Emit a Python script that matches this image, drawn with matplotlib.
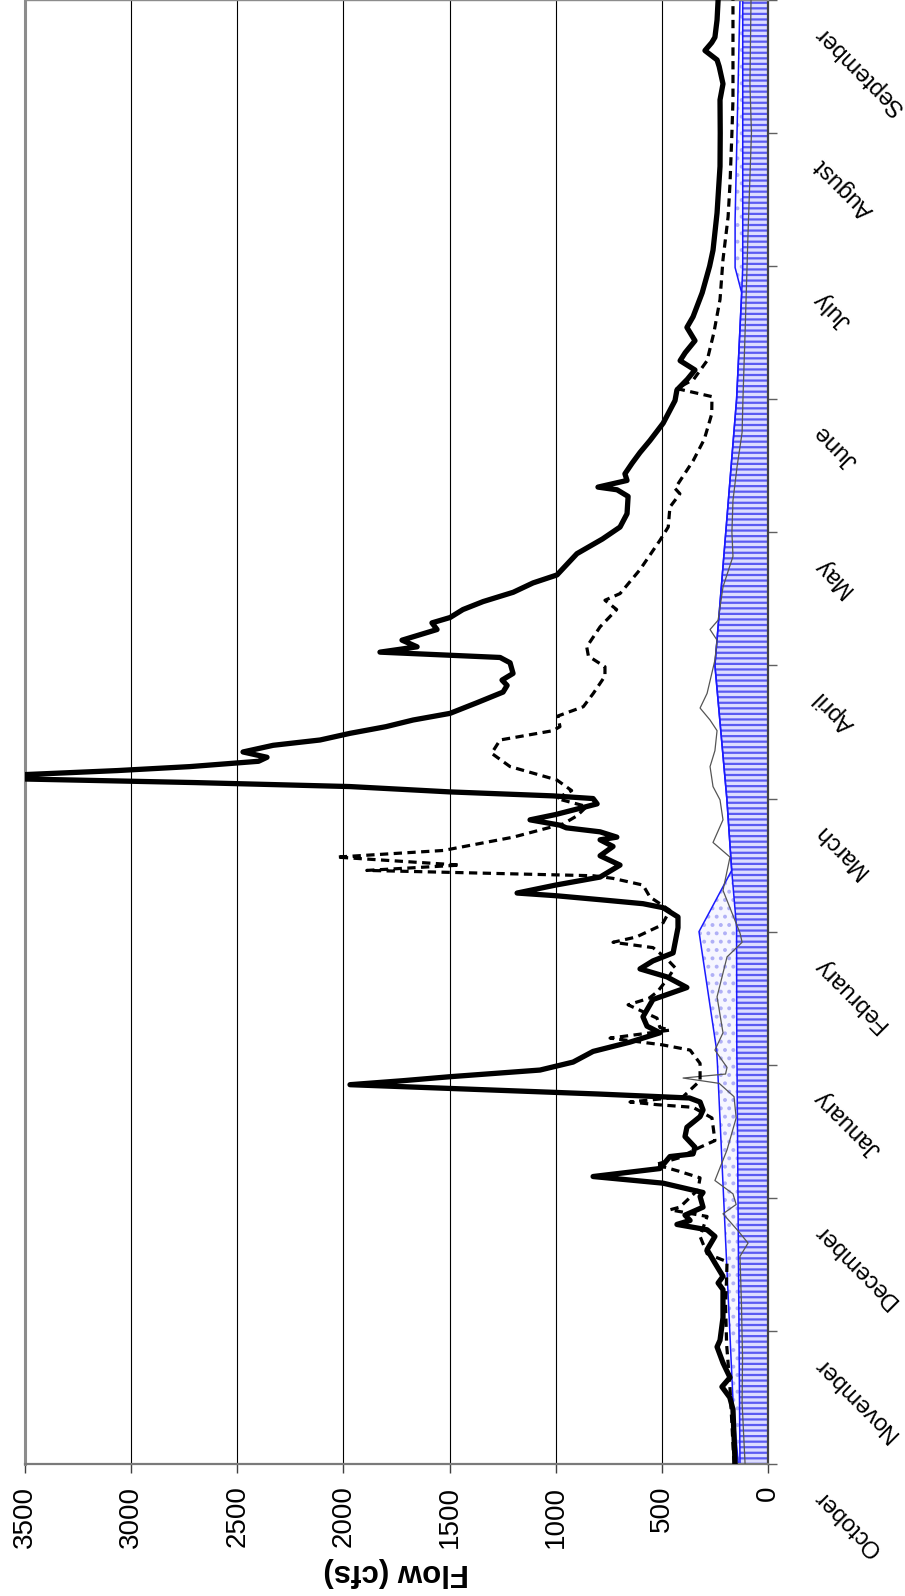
import numpy as np
import matplotlib
matplotlib.use('Agg')
import matplotlib.pyplot as plt
from matplotlib import transforms as mtransforms

plt.rcParams['font.family'] = ['Liberation Sans', 'DejaVu Sans']
plt.rcParams['hatch.linewidth'] = 1.6

# ---------------- data ----------------
months = ['October', 'November', 'December', 'January', 'February', 'March',
          'April', 'May', 'June', 'July', 'August', 'September']
flow_ticks = [0, 500, 1000, 1500, 2000, 2500, 3000, 3500]

# time in months since October 1
wet_t = [0.00, 0.20, 0.41, 0.50, 0.58, 0.65, 0.76, 0.88, 0.93, 1.10, 1.31, 1.36, 1.41,
         1.51, 1.61, 1.71, 1.76, 1.80, 1.83, 1.87, 1.93, 2.01, 2.04, 2.11, 2.16, 2.22,
         2.31, 2.33, 2.38, 2.46, 2.53, 2.61, 2.66, 2.72, 2.75, 2.78, 2.81, 2.85, 2.88,
         2.91, 2.96, 3.02, 3.10, 3.17, 3.24, 3.29, 3.36, 3.49, 3.58, 3.66, 3.72, 3.78,
         3.84, 4.03, 4.11, 4.18, 4.21, 4.24, 4.27, 4.29, 4.35, 4.41, 4.50, 4.57, 4.64,
         4.69, 4.71, 4.75, 4.78, 4.80, 4.84, 4.88, 4.94, 4.96, 5.00, 5.02, 5.05, 5.09,
         5.12, 5.15, 5.18, 5.21, 5.24, 5.28, 5.31, 5.35, 5.40, 5.44, 5.49, 5.54, 5.59,
         5.64, 5.72, 5.80, 5.85, 5.89, 5.94, 6.02, 6.06, 6.10, 6.14, 6.19, 6.27, 6.32,
         6.36, 6.42, 6.48, 6.55, 6.62, 6.68, 6.84, 6.95, 7.04, 7.14, 7.27, 7.32, 7.34,
         7.39, 7.44, 7.52, 7.60, 7.69, 7.82, 7.99, 8.07, 8.15, 8.22, 8.29, 8.35, 8.44,
         8.54, 8.62, 8.80, 9.00, 9.12, 9.40, 9.75, 10.00, 10.25, 10.37, 10.50, 10.55,
         10.62, 10.68, 10.72, 10.85, 11.00]
wet_q = [155, 160, 165, 180, 217, 179, 212, 240, 226, 212, 212, 235, 212,
         250, 287, 250, 287, 429, 367, 391, 306, 320, 306, 494, 824, 509,
         462, 353, 344, 391, 382, 320, 306, 320, 370, 800, 1300, 1969, 1720,
         1498, 1074, 918, 824, 650, 509, 570, 589, 542, 382, 476, 603, 542,
         447, 424, 424, 494, 589, 791, 1000, 1182, 1000, 791, 697, 791, 730,
         791, 712, 791, 950, 980, 1121, 1000, 854, 805, 824, 1013, 1500, 1969,
         2700, 3600, 3500, 3067, 2723, 2400, 2360, 2473, 2331, 2110, 1969, 1800, 1672,
         1498, 1371, 1248, 1229, 1253, 1201, 1215, 1262, 1828, 1653, 1724, 1559, 1583,
         1498, 1437, 1342, 1200, 1107, 994, 900, 780, 697, 664, 659, 711, 801,
         664, 674, 640, 603, 556, 494, 438, 429, 380, 344, 414, 390, 344,
         382, 353, 310, 275, 259, 240, 226, 225, 226, 212, 230, 240,
         297, 265, 250, 240, 235]

norm_t = [0.00, 0.30, 0.60, 0.90, 1.20, 1.40, 1.52, 1.58, 1.71, 1.86, 1.91, 1.93, 2.06,
          2.15, 2.20, 2.25, 2.30, 2.38, 2.43, 2.60, 2.68, 2.70, 2.72, 2.76, 2.88, 3.01,
          3.11, 3.15, 3.20, 3.23, 3.26, 3.28, 3.35, 3.45, 3.50, 3.55, 3.64, 3.73, 3.80,
          3.88, 3.92, 3.96, 4.05, 4.16, 4.26, 4.35, 4.40, 4.42, 4.46, 4.50, 4.56, 4.61,
          4.71, 4.81, 4.87, 4.94, 5.00, 5.06, 5.14, 5.24, 5.34, 5.44, 5.51, 5.54, 5.62,
          5.69, 5.79, 5.92, 5.99, 6.07, 6.14, 6.29, 6.42, 6.49, 6.54, 6.72, 6.94, 7.04,
          7.19, 7.29, 7.33, 7.54, 7.70, 7.89, 8.02, 8.08, 8.15, 8.29, 8.50, 8.75, 9.05,
          9.37, 9.62, 10.00, 10.25, 11.00]
norm_q = [160, 170, 180, 195, 200, 195, 193, 287, 320, 287, 462, 415, 330,
          320, 420, 530, 420, 320, 250, 264, 353, 523, 650, 400, 320, 320,
          367, 500, 744, 600, 462, 509, 523, 659, 560, 520, 476, 438, 480,
          542, 730, 620, 500, 462, 556, 589, 730, 823, 1890, 1451, 2032, 1529,
          1200, 964, 900, 854, 995, 925, 995, 1215, 1302, 1262, 1013, 980, 990,
          870, 823, 768, 768, 846, 854, 791, 713, 768, 697, 603, 509, 470,
          462, 415, 438, 352, 300, 265, 264, 429, 350, 287, 255, 226, 212,
          188, 179, 170, 165, 165]

dry_t = [0.00, 0.46, 0.80, 1.20, 1.56, 1.66, 1.75, 1.88, 1.95, 2.03, 2.13, 2.36, 2.60,
         2.76, 2.86, 2.90, 2.93, 2.98, 3.11, 3.24, 3.51, 3.81, 3.92, 3.99, 4.31, 4.56,
         4.67, 4.84, 4.99, 5.09, 5.24, 5.36, 5.51, 5.59, 5.68, 5.79, 6.04, 6.19, 6.27,
         6.34, 6.59, 6.82, 7.00, 7.24, 7.49, 7.75, 8.00, 8.50, 9.25, 10.00, 10.37, 11.00]
dry_q = [108, 122, 120, 125, 132, 94, 140, 212, 150, 165, 250, 193, 150,
         160, 230, 400, 200, 193, 250, 212, 240, 193, 122, 132, 212, 179,
         259, 212, 226, 259, 273, 250, 240, 273, 320, 287, 250, 240, 273,
         235, 212, 165, 170, 165, 146, 122, 118, 108, 94, 78, 85, 80]

req_t = [0.00, 0.41, 3.00, 3.11, 4.00, 4.03, 4.46, 5.00, 6.00, 8.00, 8.80, 8.99, 9.35, 11.00]
base_req = [132, 134, 146, 147, 148, 148, 171, 194, 250, 148, 124, 119, 119, 119]
extra_req = [140, 163, 238, 242, 325, 315, 171, 194, 250, 148, 124, 155, 155, 132]

# ---------------- figure ----------------
W, H = 905, 1596
fig = plt.figure(figsize=(W / 100, H / 100), dpi=100)
ax = fig.add_axes([25 / W, (H - 1464) / H, (768 - 25) / W, 1464 / H])
ax.set_xlim(3500, 0)
ax.set_ylim(0, 11)

# requirement areas
ax.fill_betweenx(req_t, 0, base_req, facecolor='#dcdcff', edgecolor='#5a5af2',
                 hatch='---', linewidth=0, zorder=1)
ax.fill_betweenx(req_t, base_req, extra_req, facecolor='#f6f6ff', edgecolor='#b0b0f6',
                 hatch='..', linewidth=0, zorder=1)
ax.plot(base_req, req_t, color='#1a1aff', lw=1.1, zorder=2)
ax.plot(extra_req, req_t, color='#1a1aff', lw=1.1, zorder=2)

# flow lines
ax.plot(dry_q, dry_t, color='#555555', lw=0.9, zorder=3)
ax.plot(norm_q, norm_t, color='black', lw=2.3, linestyle=(0, (2.6, 1.7)), zorder=4)
ax.plot(wet_q, wet_t, color='black', lw=3.8, solid_joinstyle='round',
        solid_capstyle='round', zorder=5)

# grid & axes
ax.set_axisbelow(True)
ax.grid(axis='x', color='black', lw=0.8)
ax.grid(axis='y', visible=False)

ax.set_xticks(flow_ticks)
ax.set_xticklabels([str(v) for v in flow_ticks], rotation=90, fontsize=20)
ax.tick_params(axis='x', direction='out', length=6.5, width=1, color='#404040', pad=9)

ax.yaxis.tick_right()
ax.set_yticks(range(len(months)))
ax.set_yticklabels([])
ax.tick_params(axis='y', direction='out', length=6.5, width=1, color='#606060')

ax.spines['left'].set_color('#8c8c8c')
ax.spines['left'].set_linewidth(2.2)
ax.spines['bottom'].set_color('#7a7a7a')
ax.spines['bottom'].set_linewidth(1.6)
ax.spines['right'].set_color('#404040')
ax.spines['right'].set_linewidth(1.6)
ax.spines['top'].set_color('#8c8c8c')
ax.spines['top'].set_linewidth(1.0)

# month labels (rotated)
off = mtransforms.ScaledTranslation(0.50, -0.29, fig.dpi_scale_trans)
tr = ax.get_yaxis_transform() + off
for i, name in enumerate(months):
    ax.text(1.0, i, name, transform=tr, rotation=135, rotation_mode='anchor',
            ha='right', va='center', fontsize=17, clip_on=False)

fig.text(396.5 / W, 1 - 1572 / H, 'Flow (cfs)', rotation=180, ha='center',
         va='center', fontsize=22.5, fontweight='bold')

fig.savefig('out.png', dpi=100)
